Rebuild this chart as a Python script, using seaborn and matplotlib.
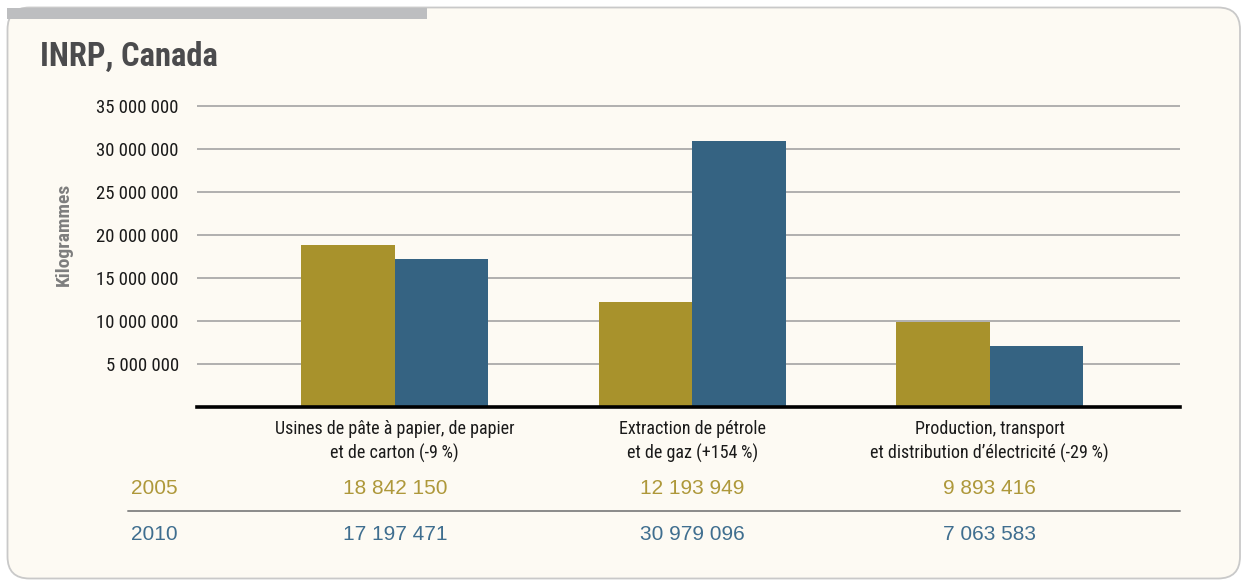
import matplotlib
matplotlib.use("Agg")
import matplotlib.pyplot as plt
from matplotlib.patches import FancyBboxPatch, Rectangle
from matplotlib.ticker import FuncFormatter
import matplotlib.transforms as mtransforms
import seaborn as sns
import pandas as pd

# ---- data ----
categories = [
    "Usines de pâte à papier, de papier\net de carton (-9\u202f%)",
    "Extraction de pétrole\net de gaz (+154\u202f%)",
    "Production, transport\net distribution d\u2019électricité (-29\u202f%)",
]
years = ["2005", "2010"]
values_2005 = [18842150, 12193949, 9893416]
values_2010 = [17197471, 30979096, 7063583]
y_ticks = [5e6, 10e6, 15e6, 20e6, 25e6, 30e6, 35e6]
title = "INRP, Canada"
ylabel = "Kilogrammes"

df = pd.DataFrame({
    "cat": categories * 2,
    "year": [years[0]] * 3 + [years[1]] * 3,
    "val": values_2005 + values_2010,
})

GOLD = "#A8922C"
BLUE = "#356382"
GOLD_T = "#AE983A"
BLUE_T = "#3F6E8F"
CREAM = "#FDFAF3"
NARROW = ["Roboto Condensed", "Archivo Narrow", "Barlow Semi Condensed", "DejaVu Sans"]
REG = ["Liberation Sans", "DejaVu Sans"]

sns.set_theme(style="white")
plt.rcParams["font.family"] = NARROW

W, H = 1244, 581
fig = plt.figure(figsize=(W / 100, H / 100), dpi=100)
fig.patch.set_facecolor("white")

# background panel in pixel coordinates
bg = fig.add_axes([0, 0, 1, 1])
bg.set_xlim(0, W)
bg.set_ylim(H, 0)
bg.axis("off")
panel = FancyBboxPatch((7.5, 7.5), 1232.5, 571, boxstyle="round,pad=0,rounding_size=22",
                       facecolor=CREAM, edgecolor="#C9C9C9", linewidth=1.3)
bg.add_patch(panel)
bg.add_patch(Rectangle((7, 7.5), 420, 11, facecolor="#BDBEC0", edgecolor="none"))
bg.text(40, 57, title, fontsize=23.5, fontweight="bold", color="#4B4B4D",
        family=NARROW, va="center", ha="left")
bg.text(64, 234, ylabel, fontsize=14, fontweight="bold", color="#7E7E7E",
        family=NARROW, rotation=90, va="center", ha="center")
# separator between rows
bg.plot([128, 1180], [510.5, 510.5], color="#8A8A8A", lw=1.4)

# main axes
px_per_M = 8.6
y0 = 407
ytop_val = 36e6
top_px = y0 - ytop_val / 1e6 * px_per_M
left, right = 197, 1180
ax = fig.add_axes([left / W, 1 - y0 / H, (right - left) / W, (y0 - top_px) / H])
ax.set_facecolor("none")

sns.barplot(data=df, x="cat", y="val", hue="year", hue_order=years,
            palette=[GOLD, BLUE], width=0.63, saturation=1, linewidth=0,
            errorbar=None, ax=ax, legend=False)

ax.set_xlim(-0.665, 2.64)
ax.set_ylim(0, ytop_val)
ax.set_yticks(y_ticks)
ax.yaxis.set_major_formatter(FuncFormatter(lambda v, p: f"{int(v):,}".replace(",", " ")))
ax.grid(axis="y", color="#A3A3A3", linewidth=1.2)
ax.set_axisbelow(True)
for s in ["top", "right", "left"]:
    ax.spines[s].set_visible(False)
ax.spines["bottom"].set_color("black")
ax.spines["bottom"].set_linewidth(2.6)
ax.set_xlabel("")
ax.set_ylabel("")
ax.tick_params(axis="y", length=0, pad=13, labelsize=13.5, labelcolor="#1A1A1A")
ax.tick_params(axis="x", length=0, pad=9, labelsize=13, labelcolor="#1A1A1A")
for lab in ax.get_xticklabels():
    lab.set_linespacing(1.4)
    lab.set_family(NARROW)
for lab in ax.get_yticklabels():
    lab.set_family(NARROW)

# data rows below the chart
trans = mtransforms.blended_transform_factory(ax.transData, fig.transFigure)
rows = [(years[0], values_2005, GOLD_T, 488.5), (years[1], values_2010, BLUE_T, 534)]
for yr, vals, col, ypx in rows:
    yf = 1 - ypx / H
    fig.text(178 / W, yf, yr, fontsize=15, color=col, family=REG, ha="right", va="center")
    for i, v in enumerate(vals):
        ax.text(i, yf, f"{v:,}".replace(",", " "), transform=trans, fontsize=15,
                color=col, family=REG, ha="center", va="center")

fig.savefig("out.png", dpi=100, facecolor="white")
